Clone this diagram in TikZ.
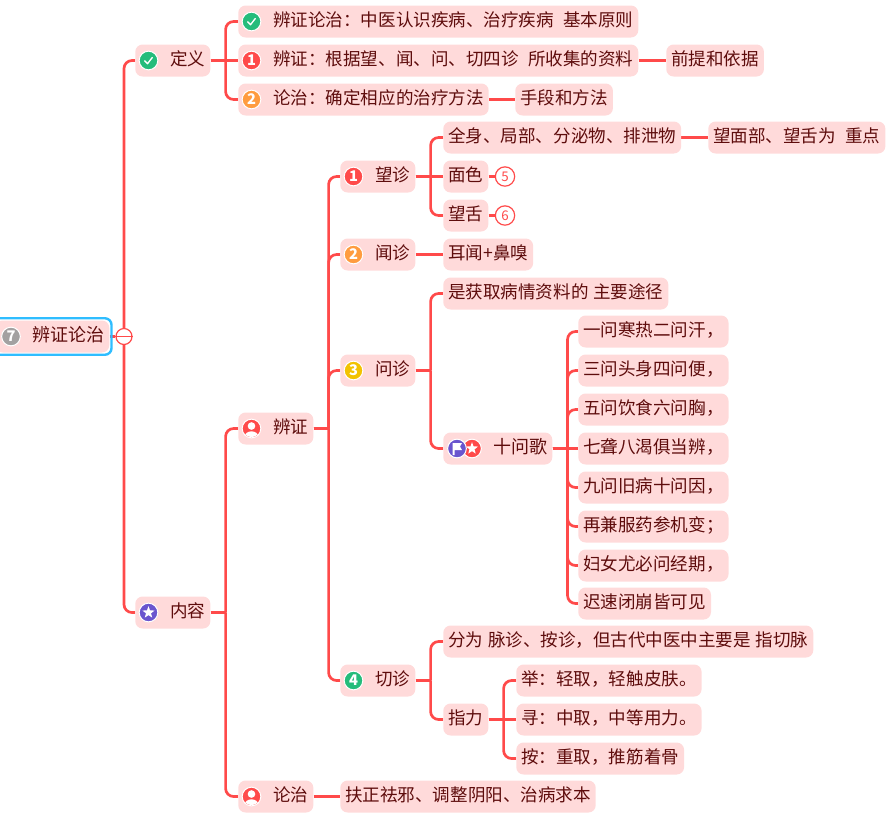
\documentclass[tikz,border=0pt]{standalone}
\usepackage{fontspec}
\newfontfamily\cjk{Noto Sans CJK SC}
\usetikzlibrary{calc,fit,backgrounds,shapes.geometric}
\definecolor{linered}{HTML}{FF4A4A}
\definecolor{topicpink}{HTML}{FFDADA}
\definecolor{inkred}{HTML}{5E0C0C}
\definecolor{okgreen}{HTML}{25BC7B}
\definecolor{numorange}{HTML}{FF9C3F}
\definecolor{numyellow}{HTML}{F2C200}
\definecolor{numpurple}{HTML}{6A55CE}
\definecolor{numgrey}{HTML}{A3A1A1}
\definecolor{framesky}{HTML}{2FBDFF}
\newcommand{\blank}{\hspace*{3.5pt}}
\tikzset{
    topic/.style={anchor=west, fill=topicpink, text=inkred, rounded corners=5.5pt, inner xsep=3.75pt, inner ysep=0pt,
        minimum height=24pt, text height=10.5pt, text depth=2.5pt, font=\cjk\fontsize{13.15}{15}\selectfont},
    bigger/.style={font=\cjk\fontsize{13.5}{15}\selectfont},
    iconic/.style={execute at begin node={\hspace*{#1}}},
    iconic/.default=22.5pt,
    badge/.style={circle, draw=white, line width=0.75pt, minimum size=14pt, inner sep=0pt, text=white,
        font=\cjk\fontsize{11}{11}\selectfont\bfseries},
    branch/.style={draw=linered, line width=2pt, rounded corners=6pt},
    ringnum/.style={circle, draw=linered, fill=white, line width=0.9pt, minimum size=14.5pt, inner sep=0pt, text=linered,
        font=\cjk\fontsize{10}{10}\selectfont},
    starmark/.style={star, star points=5, star point ratio=2.4, fill=white, minimum size=9.5pt, inner sep=0pt},
    tickmark/.pic={\draw[white, line width=1pt, line cap=round, line join=round] (-3.8,0.3) -- (-1,3.2) -- (3.8,-3);},
    personmark/.pic={
        \clip (0,0) circle (8.6);
        \fill[white] (0,-2.5) circle (3.8);
        \fill[white] (0,8.3) ellipse (7 and 5.5);
    },
    flagmark/.pic={\fill[white] (-4.5,-5.5) -- (5,-5.5) -- (3,-2) -- (5,1.5) -- (-2.5,1.5) -- (-2.5,6.5) -- (-4.5,6.5) -- cycle;}
}
\begin{document}
\begin{tikzpicture}[x=0.75pt, y=-0.75pt]
    \useasboundingbox (0,-0.5) rectangle (895,818.5);
    \node[topic, bigger, iconic=24pt] (root) at (-5,336) {辨证论治};
    \node[draw=framesky, line width=1.8pt, rounded corners=5pt, inner sep=1.5pt, fit=(root)] (frame) {};
    \node[circle, draw=linered, fill=white, line width=0.9pt, minimum size=12pt, inner sep=0pt] (minus) at (124,336) {};

    \node[topic, iconic] (dingyi) at (135,60) {定义};
    \node[topic, iconic] (neirong) at (135,612) {内容};

    \node[topic, iconic] (zhiyi) at (238,21) {辨证论治：中医认识疾病、治疗疾病\blank\blank 基本原则};
    \node[topic, iconic] (zheng) at (238,60) {辨证：根据望、闻、问、切四诊\blank\blank 所收集的资料};
    \node[topic, iconic] (zhi) at (238,99) {论治：确定相应的治疗方法};
    \node[topic] (qianti) at (666,60) {前提和依据};
    \node[topic] (shouduan) at (515,99) {手段和方法};

    \node[topic, iconic] (bianzheng) at (238,428) {辨证};
    \node[topic, iconic] (lunzhi) at (238,796) {论治};
    \node[topic] (fuzheng) at (340,796) {扶正祛邪、调整阴阳、治病求本};

    \node[topic, iconic] (wang) at (340,176) {望诊};
    \node[topic, iconic] (wen) at (340,254) {闻诊};
    \node[topic, iconic] (wenask) at (340,370) {问诊};
    \node[topic, iconic] (qie) at (340,680) {切诊};

    \node[topic] (quanshen) at (443,137) {全身、局部、分泌物、排泄物};
    \node[topic] (wangmian) at (708,137) {望面部、望舌为\blank\blank 重点};
    \node[topic] (mianse) at (443,176) {面色};
    \node[topic] (wangshe) at (443,215) {望舌};
    \node[ringnum] (five) at (505,176) {5};
    \node[ringnum] (six) at (505,215) {6};
    \node[topic] (erwen) at (443,254) {耳闻+鼻嗅};
    \node[topic] (huoqu) at (443,293) {是获取病情资料的\blank 主要途径};
    \node[topic, bigger, iconic=33.75pt] (shiwen) at (443,448) {十问歌};

    \node[topic] (geone) at (578,331) {一问寒热二问汗，};
    \node[topic] (getwo) at (578,370) {三问头身四问便，};
    \node[topic] (gethree) at (578,409) {五问饮食六问胸，};
    \node[topic] (gefour) at (578,448) {七聋八渴俱当辨，};
    \node[topic] (gefive) at (578,487) {九问旧病十问因，};
    \node[topic] (gesix) at (578,526) {再兼服药参机变；};
    \node[topic] (geseven) at (578,565) {妇女尤必问经期，};
    \node[topic] (geeight) at (578,603) {迟速闭崩皆可见};

    \node[topic] (fenwei) at (443,641) {分为\blank 脉诊、按诊，但古代中医中主要是\blank 指切脉};
    \node[topic] (zhili) at (443,719) {指力};
    \node[topic] (ju) at (516,680) {举：轻取，轻触皮肤。};
    \node[topic] (xun) at (516,719) {寻：中取，中等用力。};
    \node[topic] (an) at (516,758) {按：重取，推筋着骨};

    \begin{scope}[on background layer]
        \draw[branch] (root.east) -- (minus);
        \draw[branch] (minus) |- (dingyi.west);
        \draw[branch] (minus) |- (neirong.west);
        \foreach \a/\b in {dingyi/zhiyi, dingyi/zhi, neirong/bianzheng, neirong/lunzhi,
            bianzheng/wang, bianzheng/wen, bianzheng/wenask, bianzheng/qie,
            wang/quanshen, wang/wangshe, wenask/huoqu, wenask/shiwen,
            shiwen/geone, shiwen/getwo, shiwen/gethree, shiwen/gefive, shiwen/gesix, shiwen/geseven, shiwen/geeight,
            qie/fenwei, qie/zhili, zhili/ju, zhili/an}
            {\draw[branch] (\a.east) ++(15,0) coordinate (j) |- (\b.west);
             \draw[branch] (\a.east) -- (j);}
        \foreach \a/\b in {dingyi/zheng, zheng/qianti, zhi/shouduan, lunzhi/fuzheng, quanshen/wangmian, wang/mianse, wen/erwen,
            mianse/five, wangshe/six, shiwen/gefour, zhili/xun}
            {\draw[branch] (\a.east) -- (\b);}
    \end{scope}
    \draw[linered, line width=0.9pt] (minus.west) -- (minus.east);

    \node[badge, fill=numgrey] (root-badge) at (11,336) {7};
    \foreach \t/\c/\n in {dingyi/okgreen/, zhiyi/okgreen/, zheng/linered/1, zhi/numorange/2,
        bianzheng/linered/, lunzhi/linered/, neirong/numpurple/,
        wang/linered/1, wen/numorange/2, wenask/numyellow/3, qie/okgreen/4}
        {\node[badge, fill=\c] (\t-badge) at ($(\t.west)+(13.5,0)$) {\n};}
    \foreach \t in {dingyi,zhiyi} {\pic at (\t-badge) {tickmark};}
    \foreach \t in {bianzheng,lunzhi} {\pic at (\t-badge) {personmark};}
    \node[starmark] (neirong-star) at (neirong-badge) {};
    \node[badge, fill=linered] (shiwen-red) at (472,448) {};
    \node[starmark] (shiwen-star) at (shiwen-red) {};
    \node[badge, fill=numpurple] (shiwen-flag) at (457,448) {};
    \pic at (shiwen-flag) {flagmark};
\end{tikzpicture}
\end{document}
